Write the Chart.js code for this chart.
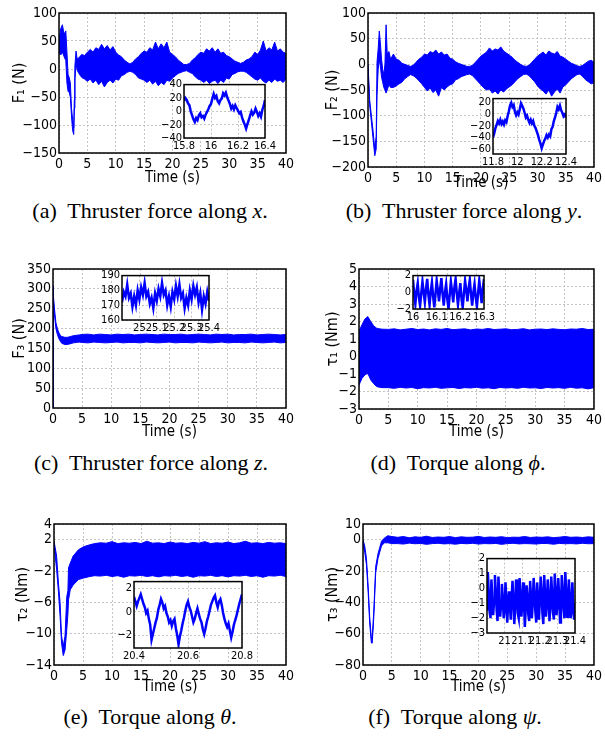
<!doctype html>
<html>
<head>
<meta charset="utf-8"/>
<title>Thruster forces and torques</title>
<style>
  body { margin: 0; background: #fff; }
  #fig { position: relative; width: 605px; height: 742px; overflow: hidden; background: #fff; }
  canvas { position: absolute; }
  .cap { position: absolute; width: 300px; text-align: center; white-space: nowrap;
         font-family: 'Liberation Serif', 'Times New Roman', serif; font-size: 22px; line-height: 24px; color: #000; }
</style>
</head>
<body>
<div id="fig">
  <canvas id="pa"></canvas><canvas id="pb"></canvas>
  <canvas id="pc"></canvas><canvas id="pd"></canvas>
  <canvas id="pe"></canvas><canvas id="pf"></canvas>
  <canvas id="ia"></canvas><canvas id="ib"></canvas>
  <canvas id="ic"></canvas><canvas id="id"></canvas>
  <canvas id="ie"></canvas><canvas id="if"></canvas>
  <div class="cap" style="left:0px;top:199px">(a)&nbsp; Thruster force along <i>x</i>.</div>
  <div class="cap" style="left:314px;top:199px">(b)&nbsp; Thruster force along <i>y</i>.</div>
  <div class="cap" style="left:1px;top:451px">(c)&nbsp; Thruster force along <i>z</i>.</div>
  <div class="cap" style="left:308px;top:451px">(d)&nbsp; Torque along <i>ϕ</i>.</div>
  <div class="cap" style="left:0px;top:705px">(e)&nbsp; Torque along <i>θ</i>.</div>
  <div class="cap" style="left:305px;top:705px">(f)&nbsp; Torque along <i>ψ</i>.</div>
</div>

<script src="https://cdn.jsdelivr.net/npm/chart.js@4.4.1/dist/chart.umd.min.js"></script>
<script>
// ---------- data ----------
// main panels: upper / lower edge of the oscillating band over time

var xTicks = [0, 5, 10, 15, 20, 25, 30, 35, 40];
var xLabels = ['0', '5', '10', '15', '20', '25', '30', '35', '40'];

// (a) F1
var tA = [0, 0.3, 0.6, 0.9, 1.2, 1.4, 1.6, 1.8, 2, 2.2, 2.4, 2.6, 2.7, 2.8, 3, 3.2, 3.5, 4, 4.5,
  5, 5.5, 6, 6.5, 7, 7.5, 8, 8.5, 9, 9.5, 10, 10.5, 11, 11.5, 12, 12.5, 13, 13.5, 14, 14.5,
  15, 15.5, 16, 16.5, 17, 17.5, 18, 18.5, 19, 19.5, 20, 20.5, 21, 21.5, 22, 22.5, 23, 23.5, 24, 24.5,
  25, 25.5, 26, 26.5, 27, 27.5, 28, 28.5, 29, 29.5, 30, 30.5, 31, 31.5, 32, 32.5, 33, 33.5, 34, 34.5,
  35, 35.5, 36, 36.5, 37, 37.5, 38, 38.5, 39, 39.5, 40];
var upA = [50, 72, 79, 62, 68, 30, -10, -15, -25, -70, -90, -105, -55, 5, 32, 18, 20, 26, 24,
  30, 35, 30, 38, 35, 44, 36, 42, 34, 40,
  30, 25, 22, 16, 12, 9, 12, 18, 22, 28,
  32, 30, 38, 34, 48, 36, 45, 38, 48, 30,
  26, 22, 16, 12, 8, 8, 10, 16, 20, 26,
  30, 28, 36, 32, 38, 30, 36, 28, 30, 24,
  22, 18, 14, 12, 10, 12, 16, 18, 22, 30,
  26, 34, 50, 32, 38, 34, 48, 32, 36, 30, 28];
var loA = [28, 25, 30, 22, 15, -25, -40, -42, -50, -84, -110, -117, -70, -20, 10, -2, -8, -15, -18,
  -22, -18, -25, -20, -28, -22, -32, -24, -20, -25,
  -18, -20, -12, -10, -6, -4, -6, -10, -16, -18,
  -20, -24, -20, -27, -22, -30, -24, -28, -20, -22,
  -16, -12, -8, -6, -4, -3, -6, -8, -14, -18,
  -20, -24, -20, -26, -22, -20, -26, -20, -24, -16,
  -18, -10, -8, -5, -4, -4, -6, -10, -14, -18,
  -20, -16, -22, -25, -20, -24, -18, -22, -20, -24, -18];
var aYTicks = [-150, -100, -50, 0, 50, 100];
var aYLabels = ['−150', '−100', '−50', '0', '50', '100'];

// (b) F2
var tB = [0, 0.3, 0.6, 0.9, 1.2, 1.45, 1.6, 1.8, 2, 2.2, 2.4, 2.6, 2.8, 3, 3.2, 3.4, 3.7, 4, 4.5,
  5, 5.5, 6, 6.5, 7, 7.5, 8, 8.5, 9, 9.5, 10, 10.5, 11, 11.5, 12, 12.5, 13, 13.5, 14, 14.5,
  15, 15.5, 16, 16.5, 17, 17.5, 18, 18.5, 19, 19.5, 20, 20.5, 21, 21.5, 22, 22.5, 23, 23.5, 24, 24.5,
  25, 25.5, 26, 26.5, 27, 27.5, 28, 28.5, 29, 29.5, 30, 30.5, 31, 31.5, 32, 32.5, 33, 33.5, 34, 34.5,
  35, 35.5, 36, 36.5, 37, 37.5, 38, 38.5, 39, 39.5, 40];
var upB = [0, -70, -100, -130, -165, -140, 5, 30, 65, 40, 10, -10, -20, 0, 77, 20, 25, 10, 20,
  10, 8, 2, 0, -2, -4, -2, 4, 10, 14,
  20, 18, 25, 22, 28, 20, 24, 18, 20, 12,
  10, 5, 2, 0, -2, -4, -4, -2, 4, 10,
  16, 20, 24, 32, 26, 30, 28, 34, 26, 22,
  18, 14, 8, 4, 0, -3, -4, -2, 4, 10,
  16, 20, 24, 18, 26, 22, 20, 25, 16, 14,
  10, 6, 2, 0, -3, -4, -2, 2, 6, 8, 4];
var loB = [-10, -80, -112, -145, -178, -165, -60, -10, 10, -5, -25, -35, -45, -50, -56, -50, -40, -45, -45,
  -42, -38, -35, -28, -24, -20, -22, -26, -32, -38,
  -45, -52, -46, -55, -50, -62, -45, -50, -44, -40,
  -38, -30, -28, -24, -22, -20, -19, -22, -28, -34,
  -40, -46, -50, -48, -56, -52, -58, -50, -54, -48,
  -44, -40, -34, -28, -24, -20, -19, -22, -28, -34,
  -42, -48, -52, -58, -50, -62, -54, -48, -56, -44,
  -40, -34, -28, -24, -20, -19, -24, -30, -34, -38, -36];
var bYTicks = [-200, -150, -100, -50, 0, 50, 100];
var bYLabels = ['−200', '−150', '−100', '−50', '0', '50', '100'];

// (c) F3
var tC = [0, 0, 0.1, 0.25, 0.5, 0.75, 1, 1.25, 1.5, 2, 2.5, 3, 3.5, 4, 4.5,
  5, 6, 7, 8, 9, 10, 11, 12, 13, 14, 15, 16, 17, 18, 19, 20, 21, 22, 23, 24,
  25, 26, 27, 28, 29, 30, 31, 32, 33, 34, 35, 36, 37, 38, 39, 40];
var upC = [0, 308, 285, 250, 215, 200, 190, 183, 180, 178, 178, 180, 182, 183, 184,
  185, 186, 184, 186, 185, 184, 186, 185, 186, 184, 185, 186, 185, 184, 186, 185, 185, 186, 184, 185,
  186, 185, 184, 186, 185, 186, 184, 185, 185, 186, 184, 185, 186, 185, 184, 185];
var loC = [0, 300, 270, 235, 200, 185, 175, 168, 163, 160, 160, 162, 164, 165, 166,
  165, 164, 166, 165, 164, 165, 166, 164, 165, 165, 164, 166, 165, 164, 165, 166, 164, 165, 165, 164,
  166, 165, 164, 165, 166, 164, 165, 165, 164, 166, 165, 164, 165, 166, 164, 165];
var cYTicks = [0, 50, 100, 150, 200, 250, 300, 350];
var cYLabels = ['0', '50', '100', '150', '200', '250', '300', '350'];

// (d) tau1
var tD = [0, 0.5, 1, 1.5, 2, 2.5, 3, 3.5, 4,
  5, 6, 7, 8, 9, 10, 11, 12, 13, 14, 15, 16, 17, 18, 19, 20, 21, 22, 23, 24,
  25, 26, 27, 28, 29, 30, 31, 32, 33, 34, 35, 36, 37, 38, 39, 40];
var upD = [1.46, 1.8, 2.14, 2.28, 2.0, 1.75, 1.62, 1.58, 1.56,
  1.55, 1.58, 1.52, 1.56, 1.6, 1.54, 1.57, 1.52, 1.58, 1.55, 1.6, 1.53, 1.56, 1.58, 1.52, 1.57,
  1.55, 1.6, 1.54, 1.56, 1.58, 1.53, 1.55, 1.59, 1.52, 1.56, 1.57, 1.54, 1.58, 1.55, 1.53, 1.57,
  1.56, 1.6, 1.54, 1.56];
var loD = [-1.63, -1.25, -1.05, -0.96, -1.34, -1.55, -1.72, -1.76, -1.78,
  -1.78, -1.82, -1.76, -1.8, -1.77, -1.84, -1.78, -1.8, -1.76, -1.82, -1.79, -1.77, -1.83, -1.78, -1.8, -1.76,
  -1.81, -1.79, -1.84, -1.77, -1.8, -1.78, -1.82, -1.76, -1.8, -1.79, -1.83, -1.77, -1.8, -1.78, -1.82, -1.76,
  -1.81, -1.79, -1.85, -1.78];
var dYTicks = [-3, -2, -1, 0, 1, 2, 3, 4, 5];
var dYLabels = ['−3', '−2', '−1', '0', '1', '2', '3', '4', '5'];

// (e) tau2
var tE = [0, 0.2, 0.45, 0.75, 1.05, 1.3, 1.6, 1.9, 2.2, 2.4, 2.5, 2.8, 3.3, 4.2, 5.1, 6.2,
  7, 8, 9, 10, 11, 12, 13, 14, 15, 16, 17, 18, 19, 20, 21, 22, 23, 24,
  25, 26, 27, 28, 29, 30, 31, 32, 33, 34, 35, 36, 37, 38, 39, 40];
var upE = [1.8, 1.0, -0.1, -3.4, -6.0, -10.3, -11.6, -10.3, -5.3, -4.5, -1.6, -1.0, -0.1, 0.7, 1.1, 1.35,
  1.5, 1.6, 1.55, 1.75, 1.5, 1.6, 1.55, 1.65, 1.5, 1.8, 1.55, 1.6, 1.5, 1.7, 1.55, 1.6, 1.5, 1.65,
  1.55, 1.75, 1.5, 1.6, 1.55, 1.7, 1.5, 1.6, 1.8, 1.55, 1.6, 1.5, 1.65, 1.55, 1.6, 1.5];
var loE = [1.6, 0.0, -1.8, -4.5, -7.8, -11.2, -12.8, -12.1, -9.5, -7.5, -5.7, -4.4, -3.8, -3.1, -2.9, -2.7,
  -2.6, -2.65, -2.55, -2.7, -2.6, -2.8, -2.6, -2.65, -2.55, -2.7, -2.6, -2.75, -2.6, -2.65, -2.55, -2.7, -2.6, -2.8,
  -2.6, -2.65, -2.55, -2.7, -2.6, -2.75, -2.6, -2.65, -2.55, -2.7, -2.6, -2.8, -2.6, -2.65, -2.55, -2.7];
var eYTicks = [-14, -10, -6, -2, 2, 4];
var eYLabels = ['−14', '−10', '−6', '−2', '2', '4'];

// (f) tau3
var tF = [0, 0.3, 0.6, 0.9, 1.15, 1.45, 1.6, 1.85, 2.2, 2.6, 2.9, 3.2, 3.7, 4.3, 5,
  6, 7, 8, 9, 10, 11, 12, 13, 14, 15, 16, 17, 18, 19, 20, 21, 22, 23, 24,
  25, 26, 27, 28, 29, 30, 31, 32, 33, 34, 35, 36, 37, 38, 39, 40];
var upF = [0, -4, -12, -30, -49, -63, -62, -47, -17, -9, -5, -1, 1, 2.5, 2,
  1.5, 2, 1.2, 1.8, 1.5, 2.2, 1.4, 1.7, 1.5, 2, 1.3, 1.8, 1.5, 1.6, 2.1, 1.4, 1.7, 1.5, 1.9,
  1.3, 1.6, 1.5, 2, 1.4, 1.7, 1.5, 1.8, 1.3, 1.6, 2, 1.5, 1.7, 1.4, 1.8, 1.5];
var loF = [-3, -8, -16, -34, -53, -66, -66, -51, -21, -12, -8, -4, -2, -2, -2.5,
  -2.5, -2.8, -2.2, -2.6, -2.4, -3, -2.5, -2.3, -2.7, -2.5, -2.9, -2.4, -2.6, -2.3, -2.8, -2.5, -2.6, -2.4, -3,
  -2.5, -2.3, -2.7, -2.5, -2.6, -2.8, -2.4, -2.5, -2.9, -2.4, -2.6, -2.5, -2.7, -2.3, -2.6, -2.5];
var fYTicks = [-80, -60, -40, -20, 0, 10];
var fYLabels = ['−80', '−60', '−40', '−20', '0', '10'];

// insets: zoomed traces, sampled at a fixed step from t0
var insA = [16, 20, 17, 12, 9, 0, -6, -12, -16, -10, -13, -6, -3, -9, -7, -11, -5, -1, 3, 8,
  11, 19, 26, 20, 23, 15, 12, 17, 19, 27, 24, 28, 21, 16, 11, 4, 8, 3, 9, 5,
  1, -3, -1, -9, -15, -20, -26, -19, -13, -6, 0, -5, -2, 4, -1, -7, -3, -8, 2, 8, 17];
var insB = [-40, -33, -24, -18, -12, -16, -10, -17, -13, -18, -11, -14, -4, 4, 14, 19, 12, 15, 4, -2,
  3, -1, 8, 18, 14, 9, 2, -6, -3, -10, -15, -10, -16, -12, -20, -24, -30, -36, -44, -50,
  -58, -52, -46, -42, -36, -40, -35, -38, -26, -22, -12, -6, 2, 12, 8, 14, 6, 2, -4, -1, -6];
var insC = [172, 179, 176, 184, 175, 178, 169, 176, 170, 180, 174, 182, 177, 185, 176, 179, 171, 175, 168, 178,
  173, 181, 176, 185, 177, 180, 170, 176, 169, 179, 174, 183, 176, 184, 175, 178, 168, 175, 170, 180,
  174, 183, 177, 182, 172, 178, 167, 176, 171, 179, 173];
var insD = [1.5, -0.2, -1.4, 0.2, 1.1, -0.6, -1.6, -0.1, 1.3, 0.0, -1.2, 0.4, 1.6, -0.3, -1.5, 0.1, 1.2, -0.5, -1.8, -0.2,
  1.4, 0.2, -1.1, 0.5, 1.7, -0.2, -1.6, 0.0, 1.0, -0.8, -2.0, -0.3, 1.3, 0.1, -1.2, 0.6, 1.6, -0.1, -1.5, -0.1,
  1.1, -0.7, -1.8, -0.2, 1.4, 0.3, -1.1, 0.5, 1.5, -0.2, -1.6, 0.0, 1.0, -0.6, -1.7, -0.1, 1.4, 0.1, -1.3, 0.4, 1.6];
var insE = [1.3, 0.9, 0.5, 0.9, 1.2, 1.5, 1.1, 0.7, 0.4, -0.1, 0.1, -0.6, -1.1, -2.4, -1.9, -1.4, -0.9, -0.5, 0.2, 0.6,
  1.1, 0.8, 0.3, 0.5, -0.1, -0.4, -0.9, -0.7, -1.2, -0.8, -0.6, -1.4, -2.0, -2.8, -2.1, -1.6, -1.0, -0.5, 0.1, 0.6,
  0.9, 0.4, 0.1, -0.4, -0.9, -0.6, -0.1, 0.3, -0.2, -0.6, -0.9, -1.5, -1.9, -1.4, -0.8, -0.4, 0.1, 0.6, 0.9, 1.2,
  1.4, 0.8, 0.4, 0.9, 1.1, 0.6, -0.1, -0.6, -1.0, -1.3, -1.0, -1.6, -2.2, -1.7, -1.1, -0.7, -0.3, 0.2, 0.7, 1.1, 1.5];
var insF = [-1.4, 1.1, -0.4, -1.6, -2.0, 0.6, -0.5, -1.8, -0.9, 0.9, -0.2, -1.5, -2.2, 0.8, -0.6, -1.9, -1.1, 0.3, -0.8, -2.0,
  -1.5, 0.4, -0.7, -2.3, -1.0, -0.2, -1.2, -2.1, -0.6, 0.5, -0.9, -2.4, -1.3, 0.6, -0.3, -1.7, -2.0, 0.7, -0.4, -1.9,
  -1.2, 0.4, -0.8, -2.6, -1.4, 0.2, -0.5, -1.8, -2.2, 0.5, -0.6, -2.0, -1.0, 0.7, -0.3, -1.6, -2.3, 0.4, -0.7, -2.1,
  -0.9, 0.8, -0.2, -1.7, -2.4, 0.9, -0.4, -1.9, -1.1, 0.6, -0.5, -2.2, -1.3, 0.8, -0.3, -1.6, -2.1, 1.0, -0.2, -1.8,
  -1.0, 0.7, -0.6, -2.3, -1.5, 0.9, -0.1, -1.4, -2.0, 1.1, -0.3, -1.9, -1.2, 0.6, -0.5, -2.0, -1.6, 0.4, -0.9, -2.1, -1.0];

// ---------- drawing ----------
var BLUE = '#0000ff';
var SANS = "'Liberation Sans Narrow', 'DejaVu Sans Condensed', 'Arial Narrow', sans-serif";

var framePlugin = {
  id: 'frame',
  beforeDraw: function (chart) {
    var a = chart.chartArea, c = chart.ctx;
    c.save();
    c.fillStyle = '#fff';
    c.fillRect(a.left, a.top, a.right - a.left, a.bottom - a.top);
    c.restore();
  },
  afterDraw: function (chart) {
    var a = chart.chartArea, c = chart.ctx;
    c.save();
    c.strokeStyle = '#000';
    c.lineWidth = 1.5;
    c.strokeRect(a.left, a.top, a.right - a.left, a.bottom - a.top);
    c.restore();
  }
};

function times(t0, dt, n) {
  var out = [];
  for (var i = 0; i < n; i++) out.push(+(t0 + i * dt).toFixed(4));
  return out;
}

function pts(t, v) {
  return t.map(function (x, i) { return { x: x, y: v[i] }; });
}

function band(t, up, lo) {
  return [
    { data: pts(t, up), borderColor: BLUE, borderWidth: 1, pointRadius: 0, fill: false },
    { data: pts(t, lo), borderColor: BLUE, borderWidth: 1, pointRadius: 0, fill: '-1', backgroundColor: BLUE }
  ];
}

function scale(s, horiz, fit) {
  var ts = s.titleSize || 16;
  var lh = ts * 1.2;
  return {
    type: 'linear', min: s.min, max: s.max,
    afterBuildTicks: function (sc) { sc.ticks = s.ticks.map(function (v) { return { value: v }; }); },
    afterFit: function (sc) { if (horiz) sc.height = fit; else sc.width = fit; },
    ticks: {
      autoSkip: false, maxRotation: 0, minRotation: 0, padding: s.pad, color: '#000',
      font: { family: SANS, size: s.size },
      callback: function (v, i) { return s.labels[i]; }
    },
    grid: { color: '#c4c4c4', lineWidth: 1, drawTicks: false },
    border: { display: false, dash: [2, 2] },
    title: {
      display: !!s.title, text: s.title, color: '#000',
      font: { family: SANS, size: ts },
      padding: horiz ? { top: 0, bottom: Math.max(0, s.titlePos - lh / 2) }
                     : { top: Math.max(0, s.titlePos - lh / 2), bottom: 0 }
    }
  };
}

// rect: canvas [left, top, width, height]; area: plot box [left, top, right, bottom] in page pixels
function draw(id, rect, area, xs, ys, datasets) {
  var cv = document.getElementById(id);
  cv.width = rect[2]; cv.height = rect[3];
  cv.style.left = rect[0] + 'px'; cv.style.top = rect[1] + 'px';
  if (xs.titleY !== undefined) xs.titlePos = rect[1] + rect[3] - xs.titleY;
  if (ys.titleX !== undefined) ys.titlePos = ys.titleX - rect[0];
  new Chart(cv, {
    type: 'line',
    data: { datasets: datasets },
    options: {
      responsive: false, animation: false, events: [],
      layout: { padding: { left: 0, top: area[1] - rect[1], right: rect[0] + rect[2] - area[2], bottom: 0 } },
      plugins: { legend: { display: false }, tooltip: { enabled: false } },
      elements: { point: { radius: 0 }, line: { tension: 0 } },
      scales: {
        x: scale(xs, true, rect[1] + rect[3] - area[3]),
        y: scale(ys, false, area[0] - rect[0])
      }
    },
    plugins: [framePlugin]
  });
}

function mainX(titleY) {
  return { min: 0, max: 40, ticks: xTicks, labels: xLabels, size: 14, pad: 3, title: 'Time (s)', titleSize: 15, titleY: titleY };
}

draw('pa', [0, 0, 300, 192], [59, 13, 286, 153], mainX(178),
  { min: -150, max: 100, ticks: aYTicks, labels: aYLabels, size: 14, pad: 2, title: 'F₁ (N)', titleX: 20 },
  band(tA, upA, loA));
draw('pb', [300, 0, 305, 192], [368, 13, 595, 167], mainX(183),
  { min: -200, max: 100, ticks: bYTicks, labels: bYLabels, size: 14, pad: 2, title: 'F₂ (N)', titleX: 333 },
  band(tB, upB, loB));
draw('pc', [0, 255, 300, 190], [53, 269, 286, 408], mainX(432),
  { min: 0, max: 350, ticks: cYTicks, labels: cYLabels, size: 14, pad: 2, title: 'F₃ (N)', titleX: 20 },
  band(tC, upC, loC));
draw('pd', [300, 255, 305, 190], [359, 269, 595, 409], mainX(432),
  { min: -3, max: 5, ticks: dYTicks, labels: dYLabels, size: 14, pad: 2, title: 'τ₁ (Nm)', titleX: 333 },
  band(tD, upD, loD));
draw('pe', [0, 505, 300, 192], [54, 524, 286, 665], mainX(687),
  { min: -14, max: 4, ticks: eYTicks, labels: eYLabels, size: 14, pad: 2, title: 'τ₂ (Nm)', titleX: 23 },
  band(tE, upE, loE));
draw('pf', [300, 505, 305, 192], [363, 524, 595, 665], mainX(687),
  { min: -80, max: 10, ticks: fYTicks, labels: fYLabels, size: 14, pad: 2, title: 'τ₃ (Nm)', titleX: 333 },
  band(tF, upF, loF));

function inset(id, area, xs, ys, t, v) {
  var rect = [area[0] - 26, area[1] - 8, area[2] - area[0] + 40, area[3] - area[1] + 26];
  xs.size = 11; xs.pad = 2; ys.size = 11; ys.pad = 2;
  draw(id, rect, area, xs, ys, [
    { data: pts(t, v), borderColor: BLUE, borderWidth: 2.5, pointRadius: 0, fill: false }
  ]);
}

inset('ia', [184, 84, 265, 138],
  { min: 15.8, max: 16.4, ticks: [15.8, 16, 16.2, 16.4], labels: ['15.8', '16', '16.2', '16.4'] },
  { min: -40, max: 40, ticks: [-40, -20, 0, 20, 40], labels: ['−40', '−20', '0', '20', '40'] },
  times(15.8, 0.01, insA.length), insA);
inset('ib', [493, 98, 566, 154],
  { min: 11.8, max: 12.4, ticks: [11.8, 12, 12.2, 12.4], labels: ['11.8', '12', '12.2', '12.4'] },
  { min: -68, max: 26, ticks: [-60, -40, -20, 0, 20], labels: ['−60', '−40', '−20', '0', '20'] },
  times(11.8, 0.01, insB.length), insB);
inset('ic', [122, 275, 209, 320],
  { min: 24.9, max: 25.4, ticks: [25, 25.1, 25.2, 25.3, 25.4], labels: ['25', '25.1', '25.2', '25.3', '25.4'] },
  { min: 160, max: 190, ticks: [160, 170, 180, 190], labels: ['160', '170', '180', '190'] },
  times(24.9, 0.01, insC.length), insC);
inset('id', [413, 275, 484, 309],
  { min: 16, max: 16.3, ticks: [16, 16.1, 16.2, 16.3], labels: ['16', '16.1', '16.2', '16.3'] },
  { min: -2, max: 2, ticks: [-2, 0, 2], labels: ['−2', '0', '2'] },
  times(16, 0.005, insD.length), insD);
inset('ie', [134, 581, 242, 648],
  { min: 20.4, max: 20.8, ticks: [20.4, 20.6, 20.8], labels: ['20.4', '20.6', '20.8'] },
  { min: -3.1, max: 2.6, ticks: [-2, 0, 2], labels: ['−2', '0', '2'] },
  times(20.4, 0.005, insE.length), insE);
inset('if', [487, 558, 575, 633],
  { min: 20.9, max: 21.4, ticks: [21, 21.1, 21.2, 21.3, 21.4], labels: ['21', '21.1', '21.2', '21.3', '21.4'] },
  { min: -3, max: 2, ticks: [-3, -2, -1, 0, 1, 2], labels: ['−3', '−2', '−1', '0', '1', '2'] },
  times(20.9, 0.005, insF.length), insF);
</script>
</body>
</html>
